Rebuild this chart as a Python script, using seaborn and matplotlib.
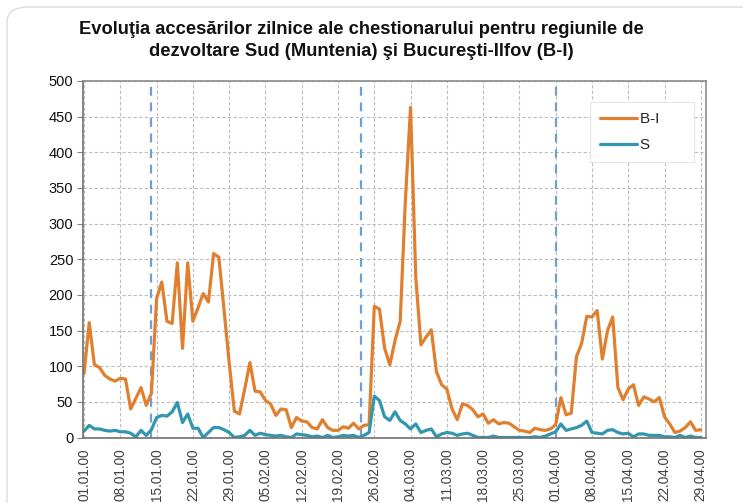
import matplotlib
matplotlib.use("Agg")
import matplotlib.pyplot as plt
from matplotlib.patches import FancyBboxPatch
from matplotlib.lines import Line2D
import seaborn as sns
import pandas as pd
import numpy as np

# ---- data ----
tick_labels = ["01.01.00", "08.01.00", "15.01.00", "22.01.00", "29.01.00", "05.02.00",
               "12.02.00", "19.02.00", "26.02.00", "04.03.00", "11.03.00", "18.03.00",
               "25.03.00", "01.04.00", "08.04.00", "15.04.00", "22.04.00", "29.04.00"]

bi_values = [90, 161, 102, 98, 87, 82, 79, 83, 82, 40,
             55, 70, 45, 62, 195, 218, 163, 160, 245, 125,
             245, 163, 182, 202, 190, 258, 253, 180, 105, 37,
             33, 68, 105, 65, 64, 52, 47, 31, 40, 39,
             14, 28, 23, 22, 14, 12, 25, 14, 10, 10,
             15, 13, 20, 12, 17, 18, 184, 180, 125, 102,
             136, 163, 333, 463, 225, 130, 141, 151, 92, 74,
             68, 40, 25, 47, 45, 39, 29, 33, 20, 25,
             19, 21, 20, 15, 10, 9, 7, 13, 11, 10,
             12, 18, 56, 32, 34, 113, 132, 170, 169, 178,
             110, 150, 169, 70, 53, 68, 74, 45, 57, 54,
             50, 56, 29, 19, 7, 9, 14, 22, 10, 11]

s_values = [9, 17, 12, 12, 10, 9, 10, 8, 8, 6,
            1, 10, 3, 11, 28, 31, 30, 36, 49, 21,
            33, 13, 13, 0, 7, 14, 14, 11, 7, 0,
            1, 3, 10, 3, 6, 4, 3, 2, 3, 1,
            0, 5, 4, 3, 1, 2, 0, 3, 0, 1,
            3, 2, 3, 0, 3, 7, 58, 52, 29, 24,
            36, 24, 19, 12, 19, 7, 10, 12, 1, 5,
            7, 6, 3, 5, 6, 3, 0, 0, 0, 2,
            0, 0, 0, 0, 0, 0, 0, 1, 0, 2,
            5, 8, 19, 10, 12, 14, 17, 23, 7, 6,
            5, 10, 11, 7, 5, 6, 1, 5, 5, 3,
            3, 3, 1, 1, 0, 3, 0, 2, 0, 0]

series_names = ["B-I", "S"]
event_days = [13, 53.5, 91]

days = np.arange(len(bi_values))
df = pd.DataFrame({
    "day": np.concatenate([days, days]),
    "value": bi_values + s_values,
    "series": [series_names[0]] * len(bi_values) + [series_names[1]] * len(s_values),
})

# ---- figure ----
sns.set_theme(style="white")
plt.rcParams["font.family"] = ["Liberation Sans", "DejaVu Sans"]

fig = plt.figure(figsize=(7.43, 5.03), dpi=100)
fig.patch.set_facecolor("white")

# outer rounded chart frame
frame = FancyBboxPatch((7 / 743, -0.1), 1.2, 1 - 7 / 503 + 0.1,
                       boxstyle="round,pad=0,rounding_size=0.03",
                       transform=fig.transFigure, facecolor="none",
                       edgecolor="#dcdcdc", linewidth=1.0, zorder=0)
fig.patches.append(frame)

ax = fig.add_axes([83 / 743, 1 - 437.5 / 503, (706 - 83) / 743, (437.5 - 81) / 503])

palette = {"B-I": "#E0802F", "S": "#3196AE"}
sns.lineplot(data=df, x="day", y="value", hue="series", palette=palette,
             linewidth=2.3, ax=ax, legend=False)

for d in event_days:
    ax.axvline(d, color="#6F9FD8", linestyle=(0, (4, 3)), linewidth=1.6, zorder=1)

ax.set_xlim(-0.2, 120)
ax.set_ylim(0, 500)
ax.set_yticks(np.arange(0, 501, 50))
ax.set_xticks(np.arange(0, len(bi_values), 7))
ax.set_xticklabels(tick_labels, rotation=90, fontsize=9.8, color="#404040")
ax.tick_params(axis="y", labelsize=10.5, labelcolor="#111111", left=True,
               length=4, width=0.8, color="#808080", pad=3)
ax.tick_params(axis="x", bottom=False, length=0, pad=8)
ax.set_xlabel("")
ax.set_ylabel("")

ax.grid(True, color="#bdbdbd", linestyle=(0, (3, 2)), linewidth=0.8)
ax.set_axisbelow(True)
for side in ["left", "right", "top", "bottom"]:
    ax.spines[side].set_visible(True)
    ax.spines[side].set_color("#8a8a8a")
    ax.spines[side].set_linewidth(1.2)
ax.spines["left"].set_color("#707070")
ax.spines["bottom"].set_color("#707070")

# legend
handles = [Line2D([0], [0], color=palette[n], linewidth=2.3) for n in series_names]
leg = ax.legend(handles, [n + "      " for n in series_names], loc="upper left",
                bbox_to_anchor=((590 - 83) / 623, 1 - (102 - 81) / 356.5),
                frameon=True, fontsize=11, handlelength=2.4, handletextpad=0.2,
                labelspacing=0.8, borderpad=0.65, borderaxespad=0,
                fancybox=False, shadow=False)
leg.get_frame().set_edgecolor("#e6e6e6")
leg.get_frame().set_linewidth(0.8)
leg.get_frame().set_facecolor("white")
leg.get_frame().set_alpha(1)

fig.text(361 / 743, 1 - 30 / 503,
         "Evoluţia accesărilor zilnice ale chestionarului pentru regiunile de",
         ha="center", va="center", fontsize=13.2, fontweight="bold", color="#111111")
fig.text(361 / 743, 1 - 52 / 503,
         "dezvoltare Sud (Muntenia) şi Bucureşti-Ilfov (B-I)",
         ha="center", va="center", fontsize=13.2, fontweight="bold", color="#111111")

fig.savefig("out.png", dpi=100)
